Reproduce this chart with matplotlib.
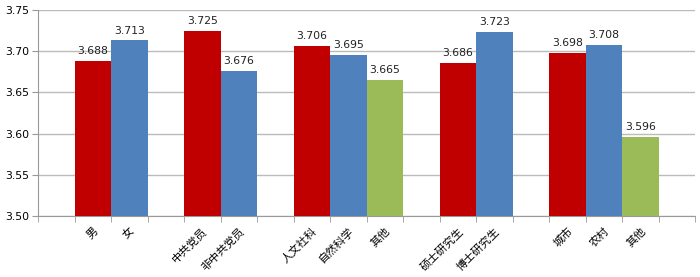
import matplotlib.pyplot as plt
import numpy as np

plt.rcParams['font.family'] = ['Noto Sans CJK SC', 'DejaVu Sans']

gender = ['男', '女']
gender_vals = [3.688, 3.713]
party = ['中共党员', '非中共党员']
party_vals = [3.725, 3.676]
major = ['人文社科', '自然科学', '其他']
major_vals = [3.706, 3.695, 3.665]
degree = ['硕士研究生', '博士研究生']
degree_vals = [3.686, 3.723]
origin = ['城市', '农村', '其他']
origin_vals = [3.698, 3.708, 3.596]

groups = [(gender, gender_vals), (party, party_vals), (major, major_vals),
          (degree, degree_vals), (origin, origin_vals)]
colors = ['#C00000', '#4F81BD', '#9BBB59']

fig = plt.figure(figsize=(7, 2.77), dpi=100)
ax = fig.add_axes([38/700, 61/277, 657/700, 206/277])

base = 3.5
x = 1
centers = []
names = []
for labels, vals in groups:
    for i, (lab, v) in enumerate(zip(labels, vals)):
        ax.bar(x + 0.5, v - base, bottom=base, width=1.0, color=colors[i], zorder=3)
        ax.text(x + 0.5, v + 0.006, '%.3f' % v, ha='center', va='bottom',
                fontsize=7.8, family='DejaVu Sans', color='#222222')
        centers.append(x + 0.5)
        names.append(lab)
        x += 1
    x += 1

ax.set_xlim(0, x)
ax.set_ylim(3.5, 3.75)
ax.set_yticks(np.arange(3.5, 3.751, 0.05))
ax.set_yticklabels(['%.2f' % t for t in np.arange(3.5, 3.751, 0.05)], fontsize=7.8,
                   family='DejaVu Sans')
ax.yaxis.grid(True, color='#BBBBBB', linewidth=1, zorder=0)

ax.set_xticks(centers)
ax.set_xticklabels(names, rotation=45, ha='right', va='top', rotation_mode='anchor',
                   fontsize=8)
ax.tick_params(axis='x', which='major', length=0, pad=7)
ax.set_xticks(np.arange(0, x + 1), minor=True)
ax.tick_params(axis='x', which='minor', length=4, color='#999999', direction='out')
ax.tick_params(axis='y', length=4, color='#999999', pad=2)

for s in ['top', 'right']:
    ax.spines[s].set_visible(False)
for s in ['left', 'bottom']:
    ax.spines[s].set_color('#999999')

fig.savefig('out.png', dpi=100)
